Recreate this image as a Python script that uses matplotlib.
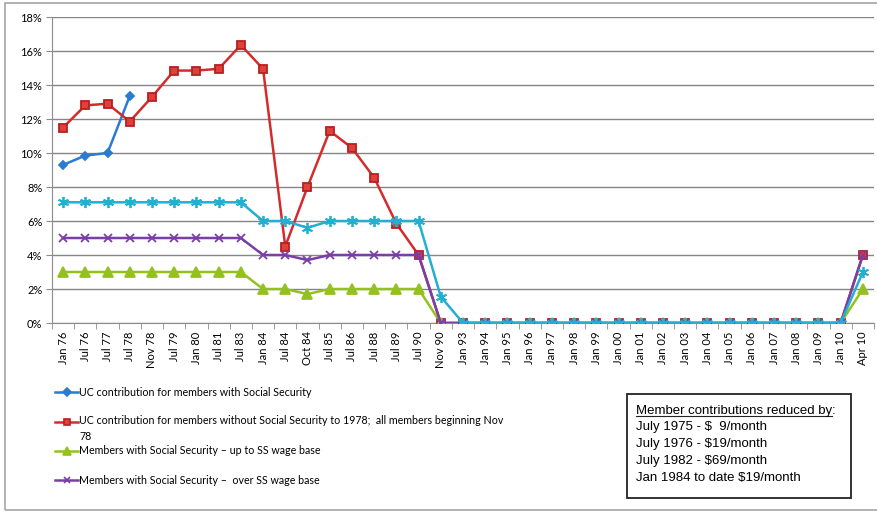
import matplotlib
matplotlib.use("Agg")
import matplotlib.pyplot as plt
from matplotlib.lines import Line2D
from matplotlib.patches import Rectangle
import numpy as np

categories = ["Jan 76", "Jul 76", "Jul 77", "Jul 78", "Nov 78", "Jul 79", "Jan 80", "Jul 81",
              "Jul 83", "Jan 84", "Jul 84", "Oct 84", "Jul 85", "Jul 86", "Jul 88", "Jul 89",
              "Jul 90", "Nov 90", "Jan 93", "Jan 94", "Jan 95", "Jan 96", "Jan 97", "Jan 98",
              "Jan 99", "Jan 00", "Jan 01", "Jan 02", "Jan 03", "Jan 04", "Jan 05", "Jan 06",
              "Jan 07", "Jan 08", "Jan 09", "Jan 10", "Apr 10"]

nan = np.nan
zeros_93_10 = [0.0] * 18  # Jan 93 .. Jan 10

uc_with_ss = [9.3, 9.85, 10.0, 13.35] + [nan] * 33
uc_without_ss = [11.5, 12.8, 12.9, 11.85, 13.3, 14.85, 14.85, 14.95, 16.35, 14.95,
                 4.5, 8.0, 11.3, 10.3, 8.55, 5.85, 4.0, 0.0] + zeros_93_10 + [4.0]
ss_up_to_base = [3.0] * 9 + [2.0, 2.0, 1.7, 2.0, 2.0, 2.0, 2.0, 2.0, 0.0] + zeros_93_10 + [2.0]
ss_over_base = [5.0] * 9 + [4.0, 4.0, 3.7, 4.0, 4.0, 4.0, 4.0, 4.0, 0.0] + zeros_93_10 + [4.0]
ss_total = [7.1] * 9 + [6.0, 6.0, 5.6, 6.0, 6.0, 6.0, 6.0, 6.0, 1.55] + zeros_93_10 + [3.0]

legend_labels = [
    "UC contribution for members with Social Security",
    "UC contribution for members without Social Security to 1978;  all members beginning Nov\n78",
    "Members with Social Security \u2013 up to SS wage base",
    "Members with Social Security \u2013  over SS wage base",
]
note_title = "Member contributions reduced by"
note_lines = ["July 1975 - $  9/month", "July 1976 - $19/month",
              "July 1982 - $69/month", "Jan 1984 to date $19/month"]

series = [
    # values, line colour, marker, marker face, marker edge, size
    (uc_with_ss, "#2b7bd0", "D", "#2b7bd0", "#2b7bd0", 4.5),
    (uc_without_ss, "#d42c2c", "s", "#e0403a", "#b82020", 6.0),
    (ss_up_to_base, "#94c11f", "^", "#94c11f", "#94c11f", 7.0),
    (ss_over_base, "#7a3fa6", "x", "#7a3fa6", "#7a3fa6", 6.0),
    (ss_total, "#22b0d0", (6, 2, 0), "#22b0d0", "#22b0d0", 8.0),
]

plt.rcParams["font.family"] = ["Lato", "DejaVu Sans"]

W, H = 877, 512
fig = plt.figure(figsize=(W / 100, H / 100), dpi=100)
ax = fig.add_axes([52 / W, 1 - 323 / H, (874 - 52) / W, (323 - 17) / H])

x = np.arange(len(categories))
for vals, col, mk, mfc, mec, ms in series:
    ax.plot(x, vals, color=col, lw=1.8, marker=mk, markerfacecolor=mfc,
            markeredgecolor=mec, markersize=ms, markeredgewidth=1.3, zorder=3)

ax.set_xlim(-0.5, len(categories) - 0.5)
ax.set_ylim(0, 18)
ax.set_yticks(np.arange(0, 19, 2))
ax.set_yticklabels([f"{v}%" for v in range(0, 19, 2)], fontsize=8)
ax.yaxis.grid(True, color="#858585", lw=1.0)
ax.set_axisbelow(True)

ax.set_xticks(x)
ax.set_xticklabels(categories, rotation=90, fontsize=8)
ax.set_xticks(np.arange(-0.5, len(categories)), minor=True)
ax.tick_params(axis="x", which="major", length=0, pad=6)
ax.tick_params(axis="x", which="minor", length=4, color="#8c8c8c")
ax.tick_params(axis="y", length=4, color="#8c8c8c", pad=3)

for side in ["top", "right"]:
    ax.spines[side].set_visible(False)
ax.spines["left"].set_color("#8c8c8c")
ax.spines["bottom"].set_color("#8c8c8c")

# legend below the plot
legend_y = [392, 422, 451, 480]
for (vals, col, mk, mfc, mec, ms), label, ly in zip(series[:4], legend_labels, legend_y):
    yf = 1 - ly / H
    fig.add_artist(Line2D([55 / W, 78 / W], [yf, yf], color=col, lw=1.8))
    fig.add_artist(Line2D([66.5 / W], [yf], color=col, marker=mk, markerfacecolor=mfc,
                          markeredgecolor=mec, markersize=ms * 0.8, markeredgewidth=1.2))
    if "\n" in label:
        fig.text(79 / W, 1 - (422 - 7) / H, label, fontsize=7.7, va="top", linespacing=1.5)
    else:
        fig.text(79 / W, yf, label, fontsize=7.7, va="center")

# note box
fig.add_artist(Rectangle((627 / W, 1 - 498 / H), (851 - 627) / W, (498 - 394) / H,
                         transform=fig.transFigure, fill=False, ec="#222222", lw=1.3))
note_font = ["Liberation Sans", "DejaVu Sans"]
title_t = fig.text(636 / W, 1 - 411 / H, note_title, fontsize=9.5, family=note_font,
                   va="center")
fig.canvas.draw()
bb = title_t.get_window_extent()
fig.text(bb.x1 / W, 1 - 411 / H, ":", fontsize=9.5, family=note_font, va="center")
fig.add_artist(Line2D([bb.x0 / W, bb.x1 / W], [(bb.y0 + 1) / H, (bb.y0 + 1) / H],
                      color="#222222", lw=0.8))
for i, line in enumerate(note_lines):
    fig.text(636 / W, 1 - (427 + 17 * i) / H, line, fontsize=9.5, family=note_font,
             va="center")

# outer chart border
fig.add_artist(Rectangle((5 / W, 2 / H), 1.0, (509 - 2) / H, transform=fig.transFigure,
                         fill=False, ec="#a6a6a6", lw=1.2))

fig.savefig("out.png", dpi=100)
